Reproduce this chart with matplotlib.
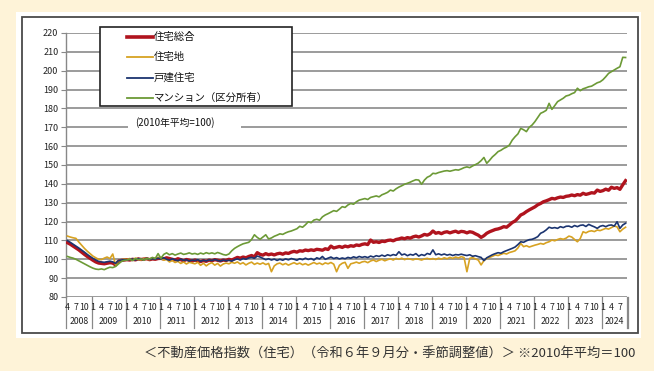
import matplotlib
matplotlib.use("Agg")
import matplotlib.pyplot as plt
from matplotlib.patches import Rectangle
from matplotlib.lines import Line2D
import numpy as np

plt.rcParams['font.family'] = ['Noto Sans CJK JP', 'DejaVu Sans']

# ---------------- data (monthly, Apr 2008 .. Sep 2024) ----------------
series_names = ["住宅総合", "住宅地", "戸建住宅", "マンション（区分所有）"]
years = list(range(2008, 2025))

total = [
    108.8, 108.0, 107.0, 106.0, 105.0, 103.8, 102.6, 101.5, 100.5,
    99.5, 98.6, 98.0, 97.8, 97.6, 97.9, 98.2, 98.0, 97.0, 99.0, 99.4, 99.6,
    99.8, 99.6, 100.0, 99.7, 100.2, 99.9, 100.1, 100.3, 99.8, 100.2, 100.0, 100.4,
    100.5, 100.2, 100.8, 100.4, 100.0, 99.6, 100.3, 99.8, 99.2, 99.9, 99.5, 99.0,
    99.6, 99.2, 98.8, 99.3, 98.9, 99.6, 99.2, 99.8, 99.5, 99.1, 99.6, 99.4,
    100.0, 99.6, 100.3, 101.0, 100.6, 101.2, 100.8, 101.5, 102.0, 101.3, 103.5, 102.6,
    102.2, 103.0, 102.4, 102.8, 102.3, 102.9, 103.2, 102.7, 103.4, 103.1, 103.8, 104.2,
    103.8, 104.5, 104.3, 104.9, 104.6, 105.0, 104.7, 105.3, 105.1, 104.8, 105.6, 105.2,
    107.0, 106.0, 106.4, 106.8, 106.3, 107.0, 106.6, 107.2, 106.9, 107.6, 107.3, 107.9,
    108.2, 107.8, 110.2, 109.0, 109.3, 108.9, 109.6, 109.4, 110.0, 110.2, 109.8, 110.5,
    110.8, 111.3, 110.9, 111.5, 111.2, 111.9, 112.3, 111.8, 112.4, 113.2, 112.8, 113.5,
    115.0, 113.8, 114.2, 113.6, 114.3, 114.6, 114.0, 114.5, 114.9, 114.2, 114.8, 114.6,
    114.0, 114.6, 114.3, 113.5, 112.8, 111.6, 112.5, 113.8, 114.6, 115.2, 115.8, 116.1,
    116.6, 117.3, 117.0, 118.2, 119.5, 120.3, 121.8, 123.5, 124.2, 125.3, 126.2, 127.0,
    127.8, 128.9, 129.6, 130.5, 131.0, 131.6, 132.3, 132.0, 132.6, 133.0, 132.8, 133.4,
    133.6, 134.1, 133.7, 134.3, 134.0, 135.0, 134.4, 134.8, 135.3, 135.1, 136.7, 136.0,
    136.4, 137.2, 136.6, 138.2, 137.6, 138.0, 137.1, 139.5, 141.7,
]

land = [
    112.3, 111.8, 111.4, 111.1, 109.2, 107.5, 105.8, 104.3, 103.0,
    101.7, 100.8, 100.0, 99.8, 100.6, 101.2, 100.4, 102.8, 97.0, 99.2, 99.6, 100.1,
    99.9, 100.4, 99.7, 100.6, 100.1, 99.6, 100.5, 100.0, 99.8, 100.7, 100.2, 101.0,
    100.3, 99.5, 99.9, 98.6, 99.3, 98.3, 98.9, 97.8, 98.6, 97.5, 98.4, 98.0,
    97.6, 98.4, 96.8, 97.9, 96.5, 97.6, 98.2, 96.9, 97.8, 96.4, 97.5, 98.0,
    97.6, 98.4, 97.9, 98.6, 97.5, 98.2, 97.0, 97.9, 98.5, 97.3, 98.0, 97.4,
    98.1, 97.2, 97.8, 93.4, 96.5, 97.6, 98.0, 97.1, 97.8, 96.9, 97.6, 98.2,
    97.4, 98.0, 97.1, 97.7, 96.9, 97.6, 98.3, 97.5, 98.0, 97.2, 98.1, 97.6,
    98.3, 97.4, 93.4, 96.8, 97.9, 98.4, 95.2, 97.6, 98.0, 98.5, 97.9, 98.6,
    98.9, 98.2, 99.1, 99.6, 98.8, 99.5, 100.0, 99.2, 99.8, 100.3, 99.6, 100.5,
    100.0, 100.6, 99.8, 100.4, 100.1, 99.7, 100.3, 100.0, 99.6, 100.2, 100.5, 100.0,
    100.4, 99.9, 100.6, 100.1, 100.8, 100.3, 101.0, 100.5, 101.2, 100.7, 101.4, 100.9,
    93.4, 100.5, 100.9, 100.2, 99.6, 97.0, 99.3, 100.4, 101.0, 101.6, 102.3, 102.0,
    102.6, 103.2, 102.8, 103.6, 104.0, 104.5, 106.0, 108.4, 106.7, 107.2, 106.5, 107.0,
    107.5, 107.9, 108.4, 108.0, 108.8, 109.3, 110.2, 109.8, 110.5, 111.0, 110.6, 111.2,
    112.3, 111.8, 110.5, 109.3, 111.0, 114.6, 114.0, 114.8, 115.1, 114.7, 115.5, 115.2,
    115.8, 116.4, 116.0, 116.8, 117.6, 117.2, 114.6, 116.0, 117.0,
]

house = [
    109.9, 109.0, 108.0, 107.0, 106.0, 104.9, 103.8, 102.6, 101.5,
    100.5, 99.6, 98.9, 98.6, 98.4, 98.7, 99.0, 98.6, 97.8, 99.3, 99.6, 99.8,
    99.7, 99.9, 100.1, 99.6, 100.4, 100.0, 99.8, 100.5, 99.9, 100.3, 100.1, 100.6,
    100.2, 100.8, 100.0, 99.5, 100.3, 99.7, 99.2, 100.1, 99.4, 99.8, 99.0, 99.6,
    99.3, 99.8, 98.9, 99.5, 99.1, 99.7, 99.3, 99.9, 99.4, 99.0, 99.6, 99.2,
    99.5, 99.0, 99.8, 100.2, 99.6, 100.4, 100.0, 100.7, 101.0, 100.5, 101.7, 101.2,
    100.5, 99.8, 100.3, 99.6, 100.1, 99.4, 100.0, 99.5, 100.2, 99.7, 100.4, 100.0,
    99.5, 100.3, 99.8, 100.6, 99.9, 100.4, 99.6, 100.8, 100.2, 101.5, 100.0, 100.6,
    101.2, 100.4, 100.9, 100.2, 100.7, 100.3, 101.0, 100.6, 101.3, 100.8, 101.5, 101.0,
    101.4, 100.9, 101.7, 101.2, 101.9, 101.5, 102.2, 101.6, 102.4, 101.9, 102.5, 102.1,
    104.0, 102.3, 102.8, 101.9, 102.6, 102.2, 103.0, 101.7, 102.5, 102.0, 103.1, 102.6,
    105.0, 102.4, 102.9, 102.3, 102.8, 102.2, 102.6, 102.0, 102.5, 102.3, 102.7, 102.3,
    102.0, 102.4, 101.6, 101.9, 101.4, 101.0, 99.3, 100.8, 101.6, 102.4, 103.0, 103.5,
    103.2, 104.0, 104.6, 105.2, 105.8, 106.5, 107.8, 109.3, 109.0, 109.8, 110.4, 110.6,
    111.2, 112.0, 113.8, 114.5, 115.6, 117.0, 116.5, 116.8, 116.4, 117.3, 116.8, 117.5,
    117.6, 117.0, 117.9, 117.3, 118.0, 118.2, 117.4, 118.5, 117.8, 117.2, 116.4, 117.5,
    117.9, 117.3, 118.0, 118.2, 117.6, 119.9, 116.4, 118.2, 119.1,
]

condo = [
    101.5, 101.0, 100.6, 100.0, 99.2, 98.4, 97.6, 96.8, 96.0,
    95.3, 94.8, 94.6, 94.9, 94.5, 95.2, 95.8, 95.6, 96.2, 97.5, 98.8, 99.4,
    99.6, 100.0, 99.3, 100.4, 99.8, 100.2, 99.5, 100.6, 100.1, 101.0, 100.4, 103.0,
    100.5, 102.6, 103.4, 102.4, 103.0, 102.2, 102.8, 103.3, 102.6, 102.9, 103.4, 102.8,
    103.1, 102.6, 103.3, 102.8, 103.5, 103.0, 103.4, 102.9, 103.6, 103.1, 102.5, 102.2,
    102.8, 104.5, 105.8, 106.7, 107.5, 108.2, 108.6, 109.0, 110.5, 113.0, 111.6, 110.6,
    111.8, 113.0, 110.8, 111.3, 112.2, 112.8, 113.5, 113.2, 114.0, 114.6, 115.0, 115.6,
    116.2, 117.5, 117.0, 118.3, 119.9, 119.4, 120.8, 121.2, 120.7, 122.5, 123.5, 124.2,
    125.0, 125.8, 125.4, 126.6, 127.9, 127.5, 128.8, 129.6, 129.2, 130.5, 131.4, 131.8,
    132.2, 131.7, 132.8, 133.2, 133.6, 133.1, 134.2, 134.8, 135.5, 136.7, 136.2, 137.4,
    138.3, 139.0, 139.8, 140.3, 140.9, 141.6, 142.2, 142.0, 139.8, 142.0, 143.5, 144.2,
    145.6, 145.4, 146.0, 146.4, 146.8, 147.0, 146.7, 147.1, 147.5, 147.3, 147.9, 148.6,
    149.0, 148.6, 149.5, 150.2, 151.0, 152.3, 154.0, 150.9, 152.5, 154.3, 155.6, 157.1,
    157.8, 158.8, 159.5, 160.6, 163.2, 165.0, 166.5, 169.4, 168.7, 167.7, 170.0, 171.2,
    173.0, 175.2, 177.4, 178.1, 179.0, 182.7, 179.5, 181.5, 183.6, 184.5, 185.4, 186.6,
    187.0, 187.8, 188.4, 190.7, 189.4, 190.4, 190.9, 191.5, 191.8, 192.7, 193.6, 194.1,
    195.2, 196.8, 198.6, 199.5, 200.4, 201.3, 202.1, 207.1, 207.0,
]

month_labels = ["1", "4", "7", "10"]
y_ticks = list(range(80, 230, 10))
note_text = "(2010年平均=100)"
caption = "＜不動産価格指数（住宅）（令和６年９月分・季節調整値）＞ ※2010年平均＝100"

# ---------------- layout helpers ----------------
W, H = 654, 371
fig = plt.figure(figsize=(W / 100, H / 100), dpi=100)
fig.patch.set_facecolor('#FEF3D8')

def fx(x):
    return x / W

def fy(y):
    return 1 - y / H

def frect(x0, y0, x1, y1, **kw):
    r = Rectangle((fx(x0), fy(y1)), fx(x1) - fx(x0), fy(y0) - fy(y1),
                  transform=fig.transFigure, **kw)
    fig.patches.append(r)
    return r

# white panel + frame
frect(16, 12, 641, 338, facecolor='white', edgecolor='none', zorder=-2)
frect(22, 17, 638, 333, facecolor='none', edgecolor='#4a4a4a', lw=1.3, zorder=-1)

# main axes
ax_l, ax_r, ax_t, ax_b = 66, 627, 33, 297
ax = fig.add_axes([fx(ax_l), fy(ax_b), fx(ax_r) - fx(ax_l), fy(ax_t) - fy(ax_b)])
ax.set_facecolor('none')

n = len(total)
x = np.arange(n)
colors = {"total": '#B0141E', "land": '#D7A222', "house": '#1B3470', "condo": '#6C9A36'}
ax.plot(x, total, color=colors["total"], lw=2.4, zorder=3, solid_joinstyle='round')
ax.plot(x, land, color=colors["land"], lw=1.2, zorder=4)
ax.plot(x, house, color=colors["house"], lw=1.2, zorder=5)
ax.plot(x, condo, color=colors["condo"], lw=1.2, zorder=6)

ax.set_xlim(-0.5, n - 0.5)
ax.set_ylim(80, 220)
ax.set_yticks(y_ticks)
ax.set_yticklabels([str(v) for v in y_ticks], fontsize=6.5, color='#222')
ax.tick_params(axis='y', length=3.5, width=0.8, color='#888', pad=2)
ax.set_xticks([])
for v in y_ticks:
    ax.axhline(v, color='#8a8a8a', lw=1.2, zorder=1)
for s in ['top', 'right', 'bottom']:
    ax.spines[s].set_visible(False)
ax.spines['left'].set_color('#888')
ax.spines['left'].set_linewidth(1.0)

# category axis labels
tr = ax.get_xaxis_transform()
px_h = ax_b - ax_t
def axy(ypix):
    return (ax_b - ypix) / px_h

start_month = 4
idx = 0
seps = [-0.5]
for yr in years:
    months = range(start_month if yr == years[0] else 1, 13 if yr != years[-1] else 10)
    first = idx
    for mth in months:
        if str(mth) in month_labels:
            ax.text(idx, axy(307.5), str(mth), transform=tr, ha='center', va='center',
                    fontsize=6.3, color='#222', clip_on=False)
        idx += 1
    last = idx - 1
    ax.text((first + last) / 2, axy(322), str(yr), transform=tr, ha='center', va='center',
            fontsize=6.3, color='#222', clip_on=False)
    seps.append(idx - 0.5)
for s in seps:
    ax.plot([s, s], [axy(297), axy(328)], transform=tr, color='#888', lw=0.9, clip_on=False)
ax.plot([n - 0.5 + 0.5, n - 0.5 + 0.5], [axy(297), axy(328)], transform=tr,
        color='#888', lw=0.9, clip_on=False)

# legend box
frect(100, 27, 292, 106, facecolor='white', edgecolor='#222', lw=1.2, zorder=5)
leg_y = [37, 57, 77.5, 97.5]
leg_c = [colors["total"], colors["land"], colors["house"], colors["condo"]]
leg_w = [2.6, 1.3, 1.3, 1.3]
for name, yy, c, w in zip(series_names, leg_y, leg_c, leg_w):
    fig.add_artist(Line2D([fx(127), fx(153)], [fy(yy), fy(yy)], transform=fig.transFigure,
                          color=c, lw=w, zorder=6))
    fig.text(fx(154), fy(yy), name, ha='left', va='center', fontsize=7.5, color='#111', zorder=6)

# base note
frect(128, 117, 241, 131, facecolor='white', edgecolor='none', zorder=5)
fig.text(fx(135), fy(123), note_text, ha='left', va='center', fontsize=7, color='#111', zorder=6)

# caption
fig.text(fx(635), fy(354), caption, ha='right', va='center', fontsize=9.5, color='#333')

fig.savefig('out.png', dpi=100, facecolor=fig.get_facecolor())
